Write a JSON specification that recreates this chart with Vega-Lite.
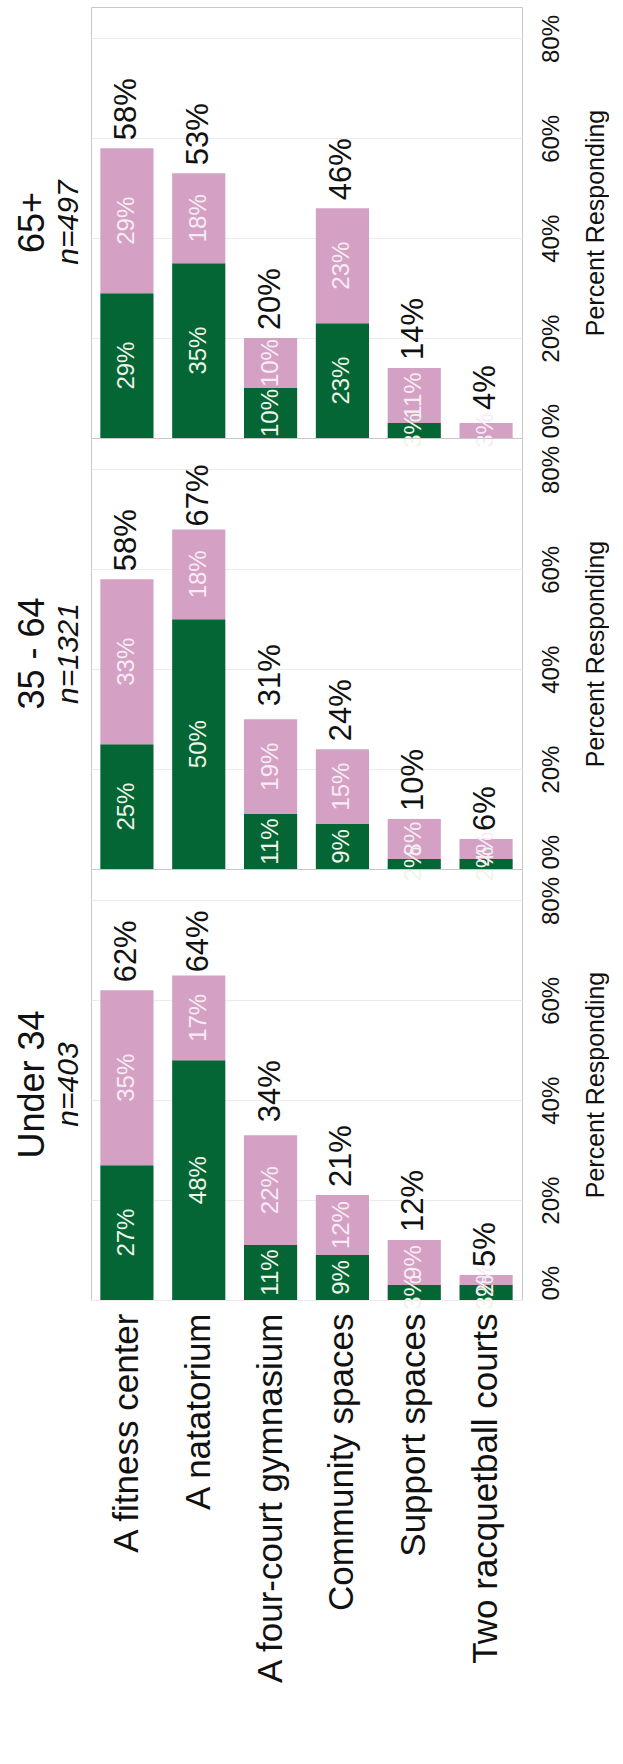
{
  "$schema": "https://vega.github.io/schema/vega-lite/v6.json",
  "padding": {"left": 14, "top": 6, "right": 0, "bottom": 0},
  "background": "white",
  "spacing": 0,
  "bounds": "flush",
  "datasets": {
    "segments": [
      {"panel": "65+", "facility": "A fitness center", "level": "First choice", "pct": 0.29},
      {"panel": "65+", "facility": "A fitness center", "level": "Second choice", "pct": 0.29},
      {"panel": "65+", "facility": "A natatorium", "level": "First choice", "pct": 0.35},
      {"panel": "65+", "facility": "A natatorium", "level": "Second choice", "pct": 0.18},
      {"panel": "65+", "facility": "A four-court gymnasium", "level": "First choice", "pct": 0.10},
      {"panel": "65+", "facility": "A four-court gymnasium", "level": "Second choice", "pct": 0.10},
      {"panel": "65+", "facility": "Community spaces", "level": "First choice", "pct": 0.23},
      {"panel": "65+", "facility": "Community spaces", "level": "Second choice", "pct": 0.23},
      {"panel": "65+", "facility": "Support spaces", "level": "First choice", "pct": 0.03},
      {"panel": "65+", "facility": "Support spaces", "level": "Second choice", "pct": 0.11},
      {"panel": "65+", "facility": "Two racquetball courts", "level": "First choice", "pct": 0},
      {"panel": "65+", "facility": "Two racquetball courts", "level": "Second choice", "pct": 0.03},
      {"panel": "35 - 64", "facility": "A fitness center", "level": "First choice", "pct": 0.25},
      {"panel": "35 - 64", "facility": "A fitness center", "level": "Second choice", "pct": 0.33},
      {"panel": "35 - 64", "facility": "A natatorium", "level": "First choice", "pct": 0.50},
      {"panel": "35 - 64", "facility": "A natatorium", "level": "Second choice", "pct": 0.18},
      {"panel": "35 - 64", "facility": "A four-court gymnasium", "level": "First choice", "pct": 0.11},
      {"panel": "35 - 64", "facility": "A four-court gymnasium", "level": "Second choice", "pct": 0.19},
      {"panel": "35 - 64", "facility": "Community spaces", "level": "First choice", "pct": 0.09},
      {"panel": "35 - 64", "facility": "Community spaces", "level": "Second choice", "pct": 0.15},
      {"panel": "35 - 64", "facility": "Support spaces", "level": "First choice", "pct": 0.02},
      {"panel": "35 - 64", "facility": "Support spaces", "level": "Second choice", "pct": 0.08},
      {"panel": "35 - 64", "facility": "Two racquetball courts", "level": "First choice", "pct": 0.02},
      {"panel": "35 - 64", "facility": "Two racquetball courts", "level": "Second choice", "pct": 0.04},
      {"panel": "Under 34", "facility": "A fitness center", "level": "First choice", "pct": 0.27},
      {"panel": "Under 34", "facility": "A fitness center", "level": "Second choice", "pct": 0.35},
      {"panel": "Under 34", "facility": "A natatorium", "level": "First choice", "pct": 0.48},
      {"panel": "Under 34", "facility": "A natatorium", "level": "Second choice", "pct": 0.17},
      {"panel": "Under 34", "facility": "A four-court gymnasium", "level": "First choice", "pct": 0.11},
      {"panel": "Under 34", "facility": "A four-court gymnasium", "level": "Second choice", "pct": 0.22},
      {"panel": "Under 34", "facility": "Community spaces", "level": "First choice", "pct": 0.09},
      {"panel": "Under 34", "facility": "Community spaces", "level": "Second choice", "pct": 0.12},
      {"panel": "Under 34", "facility": "Support spaces", "level": "First choice", "pct": 0.03},
      {"panel": "Under 34", "facility": "Support spaces", "level": "Second choice", "pct": 0.09},
      {"panel": "Under 34", "facility": "Two racquetball courts", "level": "First choice", "pct": 0.03},
      {"panel": "Under 34", "facility": "Two racquetball courts", "level": "Second choice", "pct": 0.02}
    ],
    "totals": [
      {"panel": "65+", "facility": "A fitness center", "total": 0.58},
      {"panel": "65+", "facility": "A natatorium", "total": 0.53},
      {"panel": "65+", "facility": "A four-court gymnasium", "total": 0.20},
      {"panel": "65+", "facility": "Community spaces", "total": 0.46},
      {"panel": "65+", "facility": "Support spaces", "total": 0.14},
      {"panel": "65+", "facility": "Two racquetball courts", "total": 0.04},
      {"panel": "35 - 64", "facility": "A fitness center", "total": 0.58},
      {"panel": "35 - 64", "facility": "A natatorium", "total": 0.67},
      {"panel": "35 - 64", "facility": "A four-court gymnasium", "total": 0.31},
      {"panel": "35 - 64", "facility": "Community spaces", "total": 0.24},
      {"panel": "35 - 64", "facility": "Support spaces", "total": 0.10},
      {"panel": "35 - 64", "facility": "Two racquetball courts", "total": 0.06},
      {"panel": "Under 34", "facility": "A fitness center", "total": 0.62},
      {"panel": "Under 34", "facility": "A natatorium", "total": 0.64},
      {"panel": "Under 34", "facility": "A four-court gymnasium", "total": 0.34},
      {"panel": "Under 34", "facility": "Community spaces", "total": 0.21},
      {"panel": "Under 34", "facility": "Support spaces", "total": 0.12},
      {"panel": "Under 34", "facility": "Two racquetball courts", "total": 0.05}
    ]
  },
  "vconcat": [
    {
      "width": 431, "height": 431,
      "title": {"text": "65+", "subtitle": "n=497", "orient": "left", "anchor": "middle", "frame": "group", "font": "Liberation Sans", "fontSize": 36, "fontWeight": "normal", "color": "#111111", "subtitleFont": "Liberation Sans", "subtitleFontSize": 30, "subtitleFontStyle": "italic", "subtitleColor": "#111111", "offset": 6, "subtitlePadding": 2},
      "layer": [
        {
          "data": {"name": "segments"},
          "transform": [{"filter": "datum.panel === '65+'"}],
          "mark": {"type": "bar"},
          "encoding": {
            "x": {"field": "facility", "type": "nominal", "sort": ["A fitness center", "A natatorium", "A four-court gymnasium", "Community spaces", "Support spaces", "Two racquetball courts"], "scale": {"paddingInner": 0.26, "paddingOuter": 0.13}, "axis": null},
            "y": {"field": "pct", "type": "quantitative", "stack": "zero", "scale": {"domain": [0, 0.863], "nice": false},
              "axis": {"title": "Percent Responding", "orient": "right", "values": [0, 0.2, 0.4, 0.6, 0.8], "format": ".0%", "labelAngle": 270, "labelAlign": {"condition": {"test": "datum.value <= 0", "value": "left"}, "value": "center"}, "labelBaseline": "top", "labelFont": "Liberation Sans", "labelFontSize": 24, "labelColor": "#111111", "labelPadding": 17, "labelFlush": false, "labelOverlap": false, "labelBound": false, "ticks": false, "domain": false, "grid": true, "gridColor": "#ebebeb", "titleAngle": 270, "titleBaseline": "top", "titleFont": "Liberation Sans", "titleFontSize": 25, "titleFontWeight": "normal", "titleColor": "#111111", "titlePadding": 20}},
            "color": {"field": "level", "type": "nominal", "scale": {"domain": ["First choice", "Second choice"], "range": ["#046634", "#d4a0c4"]}, "legend": null},
            "order": {"field": "level", "type": "nominal", "sort": "ascending"}
          }
        },
        {
          "data": {"name": "segments"},
          "transform": [{"filter": "datum.panel === '65+' && datum.pct > 0"}],
          "mark": {"type": "text", "angle": 270, "align": "center", "baseline": "middle", "font": "Liberation Sans", "fontSize": 24},
          "encoding": {
            "x": {"field": "facility", "type": "nominal", "sort": ["A fitness center", "A natatorium", "A four-court gymnasium", "Community spaces", "Support spaces", "Two racquetball courts"], "axis": null},
            "y": {"field": "pct", "type": "quantitative", "stack": "zero", "bandPosition": 0.5},
            "detail": {"field": "level", "type": "nominal"},
            "order": {"field": "level", "type": "nominal", "sort": "ascending"},
            "text": {"field": "pct", "type": "quantitative", "format": ".0%"},
            "color": {"condition": {"test": "datum.level === 'First choice'", "value": "#eef5ea"}, "value": "#f8ecf4"}
          }
        },
        {
          "data": {"name": "totals"},
          "transform": [{"filter": "datum.panel === '65+'"}],
          "mark": {"type": "text", "angle": 270, "align": "left", "baseline": "middle", "dx": 8, "font": "Liberation Sans", "fontSize": 31, "color": "#111111"},
          "encoding": {
            "x": {"field": "facility", "type": "nominal", "sort": ["A fitness center", "A natatorium", "A four-court gymnasium", "Community spaces", "Support spaces", "Two racquetball courts"], "axis": null},
            "y": {"field": "total", "type": "quantitative"},
            "text": {"field": "total", "type": "quantitative", "format": ".0%"}
          }
        }
      ]
    },
    {
      "width": 431, "height": 431,
      "title": {"text": "35 - 64", "subtitle": "n=1321", "orient": "left", "anchor": "middle", "frame": "group", "font": "Liberation Sans", "fontSize": 36, "fontWeight": "normal", "color": "#111111", "subtitleFont": "Liberation Sans", "subtitleFontSize": 30, "subtitleFontStyle": "italic", "subtitleColor": "#111111", "offset": 6, "subtitlePadding": 2},
      "layer": [
        {
          "data": {"name": "segments"},
          "transform": [{"filter": "datum.panel === '35 - 64'"}],
          "mark": {"type": "bar"},
          "encoding": {
            "x": {"field": "facility", "type": "nominal", "sort": ["A fitness center", "A natatorium", "A four-court gymnasium", "Community spaces", "Support spaces", "Two racquetball courts"], "scale": {"paddingInner": 0.26, "paddingOuter": 0.13}, "axis": null},
            "y": {"field": "pct", "type": "quantitative", "stack": "zero", "scale": {"domain": [0, 0.863], "nice": false},
              "axis": {"title": "Percent Responding", "orient": "right", "values": [0, 0.2, 0.4, 0.6, 0.8], "format": ".0%", "labelAngle": 270, "labelAlign": {"condition": {"test": "datum.value <= 0", "value": "left"}, "value": "center"}, "labelBaseline": "top", "labelFont": "Liberation Sans", "labelFontSize": 24, "labelColor": "#111111", "labelPadding": 17, "labelFlush": false, "labelOverlap": false, "labelBound": false, "ticks": false, "domain": false, "grid": true, "gridColor": "#ebebeb", "titleAngle": 270, "titleBaseline": "top", "titleFont": "Liberation Sans", "titleFontSize": 25, "titleFontWeight": "normal", "titleColor": "#111111", "titlePadding": 20}},
            "color": {"field": "level", "type": "nominal", "scale": {"domain": ["First choice", "Second choice"], "range": ["#046634", "#d4a0c4"]}, "legend": null},
            "order": {"field": "level", "type": "nominal", "sort": "ascending"}
          }
        },
        {
          "data": {"name": "segments"},
          "transform": [{"filter": "datum.panel === '35 - 64' && datum.pct > 0"}],
          "mark": {"type": "text", "angle": 270, "align": "center", "baseline": "middle", "font": "Liberation Sans", "fontSize": 24},
          "encoding": {
            "x": {"field": "facility", "type": "nominal", "sort": ["A fitness center", "A natatorium", "A four-court gymnasium", "Community spaces", "Support spaces", "Two racquetball courts"], "axis": null},
            "y": {"field": "pct", "type": "quantitative", "stack": "zero", "bandPosition": 0.5},
            "detail": {"field": "level", "type": "nominal"},
            "order": {"field": "level", "type": "nominal", "sort": "ascending"},
            "text": {"field": "pct", "type": "quantitative", "format": ".0%"},
            "color": {"condition": {"test": "datum.level === 'First choice'", "value": "#eef5ea"}, "value": "#f8ecf4"}
          }
        },
        {
          "data": {"name": "totals"},
          "transform": [{"filter": "datum.panel === '35 - 64'"}],
          "mark": {"type": "text", "angle": 270, "align": "left", "baseline": "middle", "dx": 8, "font": "Liberation Sans", "fontSize": 31, "color": "#111111"},
          "encoding": {
            "x": {"field": "facility", "type": "nominal", "sort": ["A fitness center", "A natatorium", "A four-court gymnasium", "Community spaces", "Support spaces", "Two racquetball courts"], "axis": null},
            "y": {"field": "total", "type": "quantitative"},
            "text": {"field": "total", "type": "quantitative", "format": ".0%"}
          }
        }
      ]
    },
    {
      "width": 431, "height": 431,
      "title": {"text": "Under 34", "subtitle": "n=403", "orient": "left", "anchor": "middle", "frame": "group", "font": "Liberation Sans", "fontSize": 36, "fontWeight": "normal", "color": "#111111", "subtitleFont": "Liberation Sans", "subtitleFontSize": 30, "subtitleFontStyle": "italic", "subtitleColor": "#111111", "offset": 6, "subtitlePadding": 2},
      "layer": [
        {
          "data": {"name": "segments"},
          "transform": [{"filter": "datum.panel === 'Under 34'"}],
          "mark": {"type": "bar"},
          "encoding": {
            "x": {"field": "facility", "type": "nominal", "sort": ["A fitness center", "A natatorium", "A four-court gymnasium", "Community spaces", "Support spaces", "Two racquetball courts"], "scale": {"paddingInner": 0.26, "paddingOuter": 0.13},
              "axis": {"title": null, "labelAngle": 270, "labelFont": "Liberation Sans", "labelFontSize": 35, "labelColor": "#111111", "labelPadding": 13, "labelLimit": 0, "ticks": false, "domain": false, "grid": false}},
            "y": {"field": "pct", "type": "quantitative", "stack": "zero", "scale": {"domain": [0, 0.863], "nice": false},
              "axis": {"title": "Percent Responding", "orient": "right", "values": [0, 0.2, 0.4, 0.6, 0.8], "format": ".0%", "labelAngle": 270, "labelAlign": {"condition": {"test": "datum.value <= 0", "value": "left"}, "value": "center"}, "labelBaseline": "top", "labelFont": "Liberation Sans", "labelFontSize": 24, "labelColor": "#111111", "labelPadding": 17, "labelFlush": false, "labelOverlap": false, "labelBound": false, "ticks": false, "domain": false, "grid": true, "gridColor": "#ebebeb", "titleAngle": 270, "titleBaseline": "top", "titleFont": "Liberation Sans", "titleFontSize": 25, "titleFontWeight": "normal", "titleColor": "#111111", "titlePadding": 20}},
            "color": {"field": "level", "type": "nominal", "scale": {"domain": ["First choice", "Second choice"], "range": ["#046634", "#d4a0c4"]}, "legend": null},
            "order": {"field": "level", "type": "nominal", "sort": "ascending"}
          }
        },
        {
          "data": {"name": "segments"},
          "transform": [{"filter": "datum.panel === 'Under 34' && datum.pct > 0"}],
          "mark": {"type": "text", "angle": 270, "align": "center", "baseline": "middle", "font": "Liberation Sans", "fontSize": 24},
          "encoding": {
            "x": {"field": "facility", "type": "nominal", "sort": ["A fitness center", "A natatorium", "A four-court gymnasium", "Community spaces", "Support spaces", "Two racquetball courts"]},
            "y": {"field": "pct", "type": "quantitative", "stack": "zero", "bandPosition": 0.5},
            "detail": {"field": "level", "type": "nominal"},
            "order": {"field": "level", "type": "nominal", "sort": "ascending"},
            "text": {"field": "pct", "type": "quantitative", "format": ".0%"},
            "color": {"condition": {"test": "datum.level === 'First choice'", "value": "#eef5ea"}, "value": "#f8ecf4"}
          }
        },
        {
          "data": {"name": "totals"},
          "transform": [{"filter": "datum.panel === 'Under 34'"}],
          "mark": {"type": "text", "angle": 270, "align": "left", "baseline": "middle", "dx": 8, "font": "Liberation Sans", "fontSize": 31, "color": "#111111"},
          "encoding": {
            "x": {"field": "facility", "type": "nominal", "sort": ["A fitness center", "A natatorium", "A four-court gymnasium", "Community spaces", "Support spaces", "Two racquetball courts"]},
            "y": {"field": "total", "type": "quantitative"},
            "text": {"field": "total", "type": "quantitative", "format": ".0%"}
          }
        }
      ]
    }
  ],
  "config": {
    "view": {"stroke": "#c8c8c8", "strokeWidth": 1},
    "font": "Liberation Sans"
  }
}
